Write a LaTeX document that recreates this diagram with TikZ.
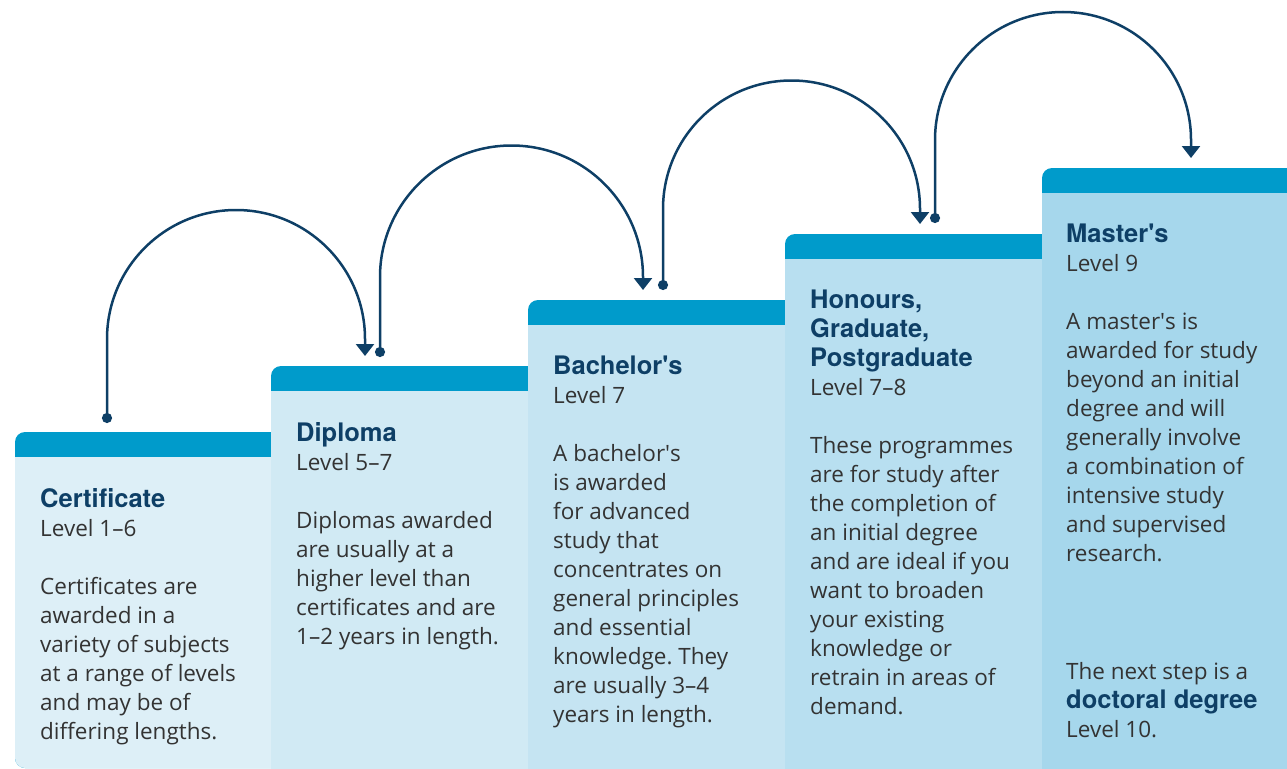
\documentclass[tikz,border=0pt]{standalone}
\usepackage{fontspec}
\setmainfont{Open Sans}
\newfontfamily\headfont{TeX Gyre Heros}
\usetikzlibrary{arrows.meta}
\definecolor{band}{HTML}{009BCB}
\definecolor{navy}{HTML}{0E3F66}
\definecolor{ink}{HTML}{333333}
\definecolor{stepA}{HTML}{DDEFF7}
\definecolor{stepB}{HTML}{D1EAF4}
\definecolor{stepC}{HTML}{C5E4F2}
\definecolor{stepD}{HTML}{B8DFF0}
\definecolor{stepE}{HTML}{A6D7EC}
\newcommand\hd[1]{{\headfont\bfseries\fontsize{25.5}{29}\selectfont\color{navy}#1}}
\newcommand\q{\textquotesingle}
\frenchspacing
\tikzset{
hop/.style={navy, line width=2.5pt, {Circle[length=10pt]}-{Triangle[width=18pt,length=12pt]}},
txt/.style={anchor=north west, align=left, text=ink, inner sep=0pt, font=\fontsize{22.5}{29}\selectfont},
}

\begin{document}
\begin{tikzpicture}[x=1pt,y=1pt]
\useasboundingbox (0,0) rectangle (1287,-768);
\clip (0,0) rectangle (1287,-768);
\fill[band, rounded corners=10pt] (15,-768) rectangle (285,-432);
\fill[stepA] (285,-457) -- (15,-457) [rounded corners=10pt] -- (15,-768) -- (285,-768) -- cycle;
\foreach \x/\t/\c in {271/366/stepB, 528/300/stepC, 785/234/stepD, 1042/168/stepE}{
\fill[band, rounded corners=10pt] (\x,-800) rectangle (\x+270,-\t);
\fill[\c] (\x,-\t-25) rectangle (\x+270,-800);
}

\node[txt] (cert) at (40,-488) {\hd{Certificate}\\Level 1–6\\[29pt]Certificates are\\awarded in a\\variety of subjects\\at a range of levels\\and may be of\\differing lengths.};
\node[txt] (dip) at (296,-422) {\hd{Diploma}\\Level 5–7\\[29pt]Diplomas awarded\\are usually at a\\higher level than\\certificates and are\\1–2 years in length.};
\node[txt] (bach) at (553,-356) {\hd{Bachelor\q s}\\Level 7\\[29pt]A bachelor\q s\\is awarded\\for advanced\\study that\\concentrates on\\general principles\\and essential\\knowledge. They\\are usually 3–4\\years in length.};
\node[txt] (hons) at (810,-290) {\hd{Honours,}\\\hd{Graduate,}\\\hd{Postgraduate}\\Level 7–8\\[29pt]These programmes\\are for study after\\the completion of\\an initial degree\\and are ideal if you\\want to broaden\\your existing\\knowledge or\\retrain in areas of\\demand.};
\node[txt] (mast) at (1066,-224) {\hd{Master\q s}\\Level 9\\[29pt]A master\q s is\\awarded for study\\beyond an initial\\degree and will\\generally involve\\a combination of\\intensive study\\and supervised\\research.\\[89pt]The next step is a\\\hd{doctoral degree}\\Level 10.};

\coordinate (cert-dot) at (107,-423);
\coordinate (dip-tip) at (365,-356);
\coordinate (dip-dot) at (380,-357);
\coordinate (bach-tip) at (643,-290);
\coordinate (bach-dot) at (663,-290);
\coordinate (hons-tip) at (920,-224);
\coordinate (hons-dot) at (935,-223);
\coordinate (mast-tip) at (1191,-158);

\draw[hop] (cert-dot) -- (107,-339) arc (180:0:129) -- (dip-tip);
\draw[hop] (dip-dot) -- (380,-277) arc (180:0:131.5) -- (bach-tip);
\draw[hop] (bach-dot) -- (663,-209) arc (180:0:128.5) -- (hons-tip);
\draw[hop] (hons-dot) -- (935,-140) arc (180:0:128) -- (mast-tip);
\end{tikzpicture}
\end{document}
